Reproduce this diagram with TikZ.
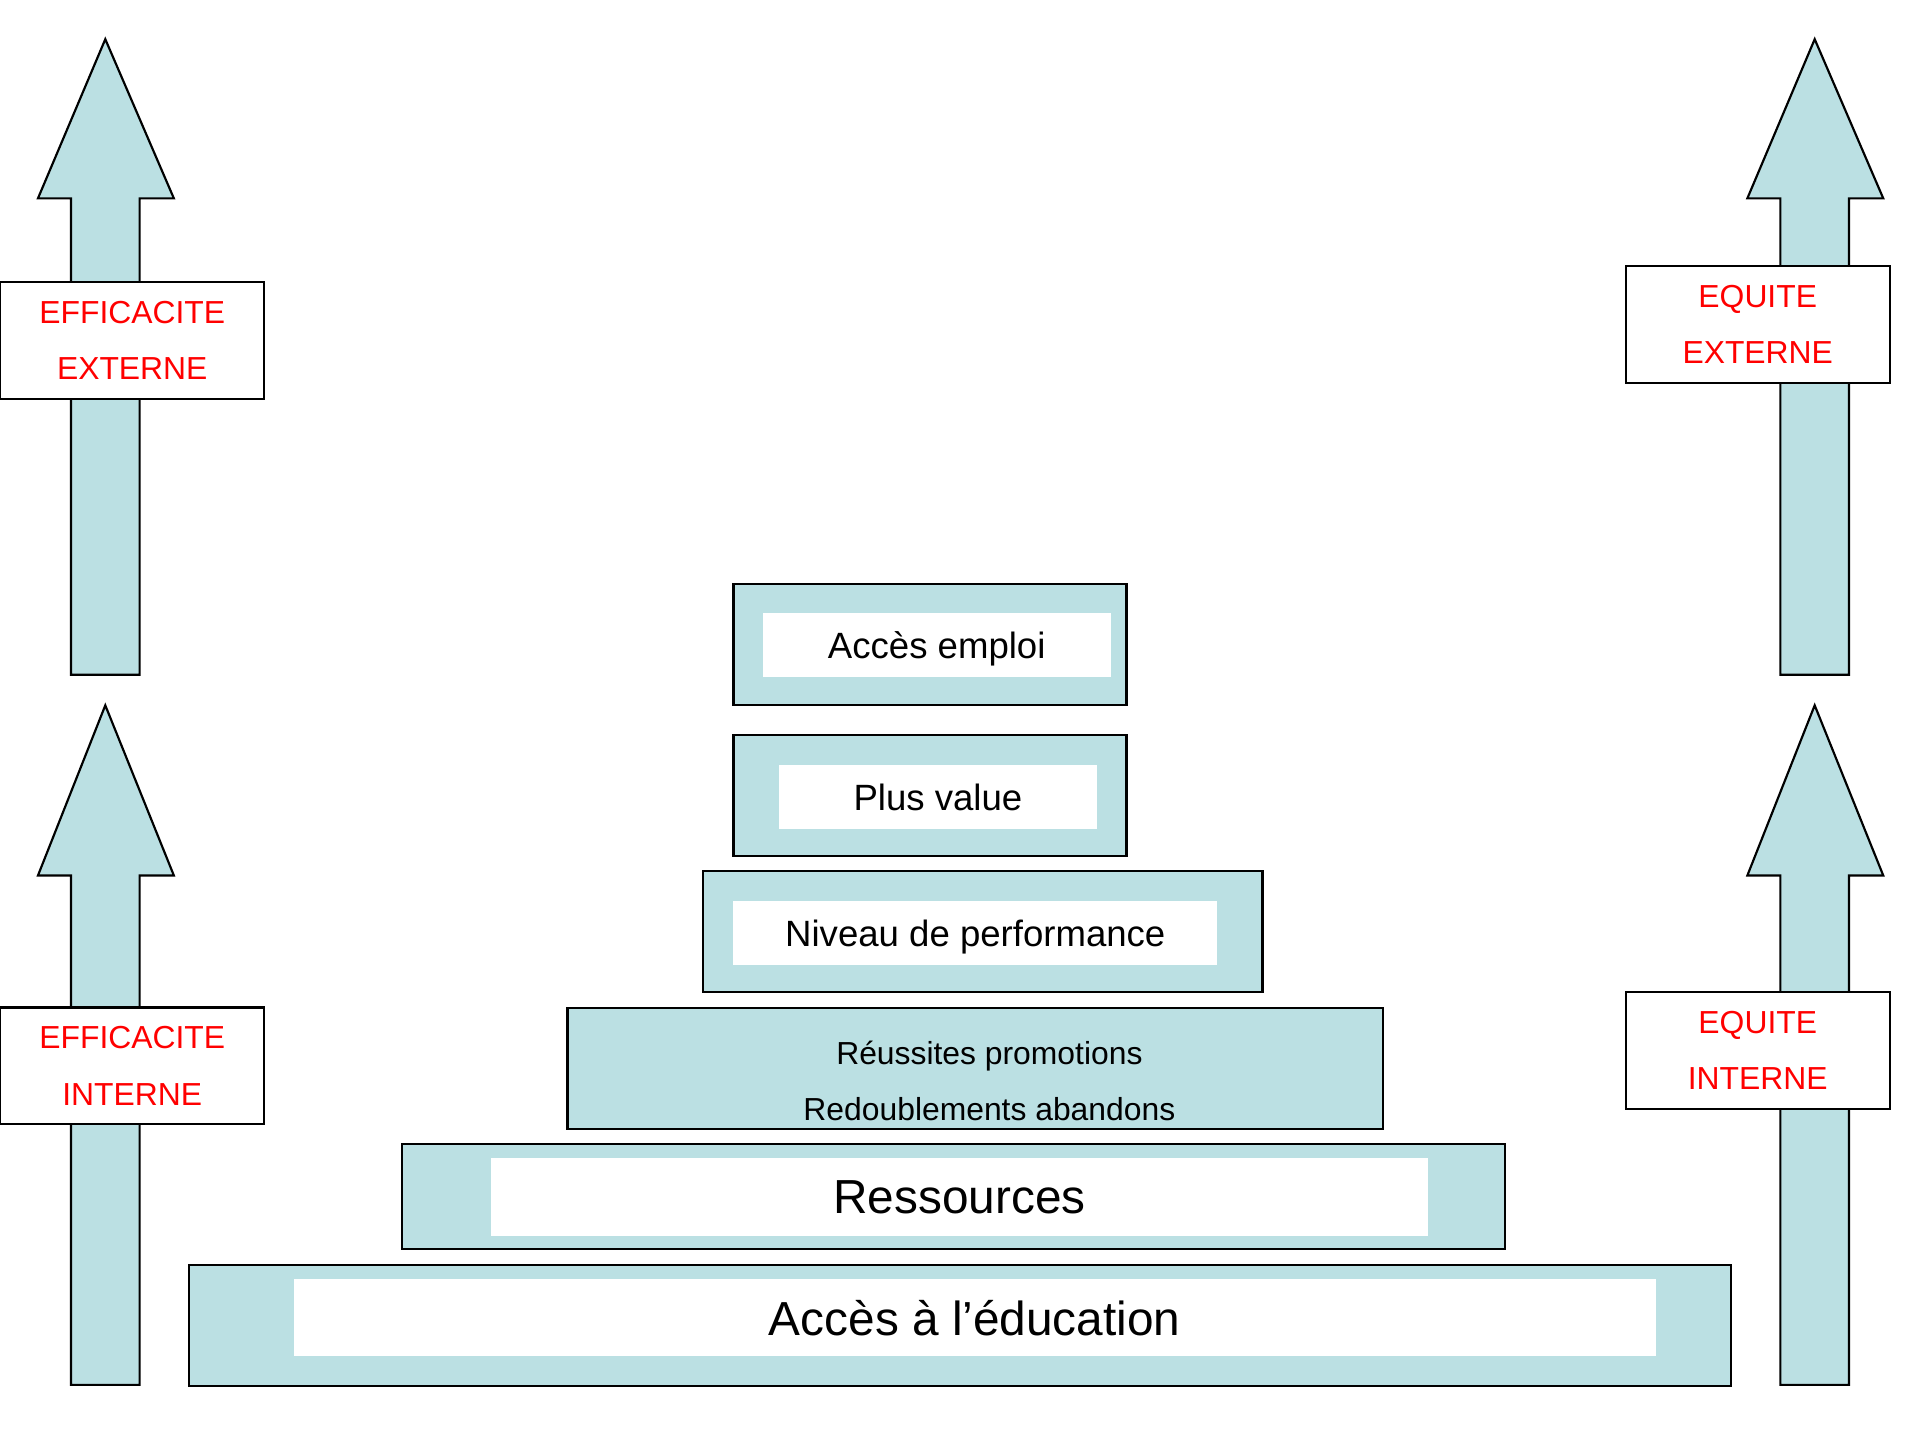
\documentclass[tikz,border=0pt]{standalone}
\usepackage{fontspec}
\setmainfont{Liberation Sans}
\usetikzlibrary{positioning}
\definecolor{tierblue}{RGB}{187,224,227}
\definecolor{labelred}{RGB}{255,0,0}

\tikzset{
    tier/.style={draw=black, fill=tierblue, line width=0.5pt, inner sep=0pt, minimum height=0.99cm},
    whitebox/.style={fill=white, inner sep=0pt, minimum height=0.52cm},
    arrowbody/.style={draw=black, fill=tierblue, line width=0.5pt, line join=miter},
    signbox/.style={draw=black, fill=white, line width=0.5pt, inner sep=0pt,
        minimum width=2.155cm, minimum height=0.955cm, text=labelred, align=center,
        font=\fontsize{7.4}{13.1}\selectfont},
    bigtxt/.style={font=\fontsize{11.1}{13}\selectfont, text depth=0pt},
    midtxt/.style={font=\fontsize{8.5}{10}\selectfont, text depth=0pt},
    smalltxt/.style={font=\fontsize{7.4}{13.1}\selectfont, align=center}
}

\begin{document}
\begin{tikzpicture}[x=0.1mm, y=-0.1mm]
    \useasboundingbox (0,0) rectangle (1568,1176);

    % big arrows on both sides
    \foreach \ax/\tip/\base/\bot in {86/32/162/551, 86/576/715/1131, 1482/32/162/551, 1482/576/715/1131}
        \draw[arrowbody] (\ax,\tip) -- ({\ax+56},\base) -- ({\ax+28},\base) -- ({\ax+28},\bot)
            -- ({\ax-28},\bot) -- ({\ax-28},\base) -- ({\ax-55},\base) -- cycle;

    \node[signbox] (effext) at (108,278) {EFFICACITE\\EXTERNE};
    \node[signbox] (effint) at (108,870.5) {EFFICACITE\\INTERNE};
    \node[signbox] (eqext) at (1435.5,265) {EQUITE\\EXTERNE};
    \node[signbox] (eqint) at (1435.5,858) {EQUITE\\INTERNE};

    % pyramid
    \node[tier, minimum width=12.59cm] (education) at (784,1082.5) {};
    \node[whitebox, minimum width=11.12cm, minimum height=0.63cm, bigtxt] (educationtxt) at (796,1076) {Accès à l’éducation};

    \node[tier, minimum width=9.01cm, minimum height=0.86cm] (ressources) at (778.5,977) {};
    \node[whitebox, minimum width=7.65cm, minimum height=0.63cm, bigtxt] (ressourcestxt) at (783.5,977.5) {Ressources};

    \node[tier, minimum width=6.66cm] (reussites) at (796.5,872.5) {};
    \node[smalltxt] (reussitestxt) at (808,883) {Réussites promotions\\Redoublements abandons};

    \node[tier, minimum width=4.57cm] (niveau) at (802.5,760.5) {};
    \node[whitebox, minimum width=3.95cm, midtxt] (niveautxt) at (796.5,762) {Niveau de performance};

    \node[tier, minimum width=3.21cm] (plusvalue) at (759.5,649.5) {};
    \node[whitebox, minimum width=2.60cm, midtxt] (plusvaluetxt) at (766,651) {Plus value};

    \node[tier, minimum width=3.21cm] (emploi) at (759.5,526.5) {};
    \node[whitebox, minimum width=2.84cm, midtxt] (emploitxt) at (765,527) {Accès emploi};
\end{tikzpicture}
\end{document}
